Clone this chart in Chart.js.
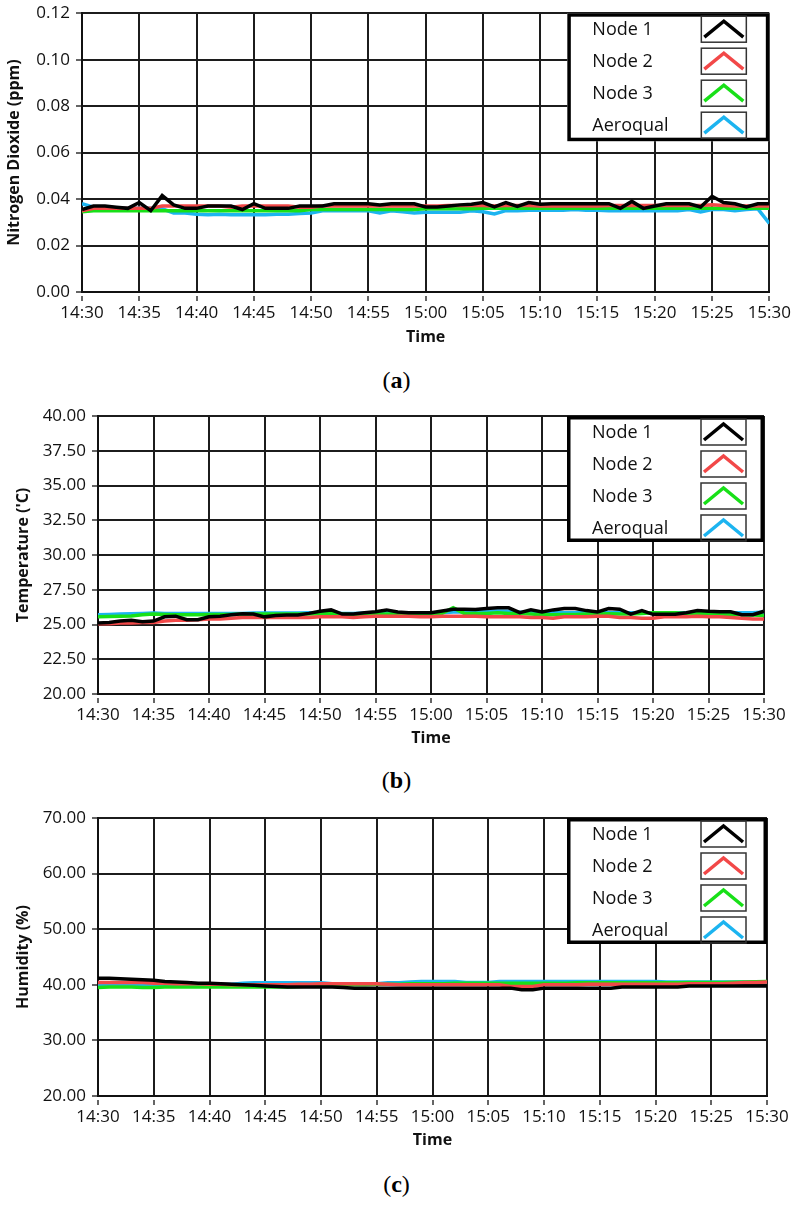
<!DOCTYPE html>
<html>
<head>
<meta charset="utf-8">
<script src="https://cdn.jsdelivr.net/npm/chart.js@4"></script>
<style>
  body { margin: 0; background: #fff; width: 793px; height: 1207px; position: relative; overflow: hidden; }
  .panel { position: absolute; left: 0; width: 793px; }
  .cap { position: absolute; left: 0; width: 793px; text-align: center; font-family: "Liberation Serif", serif; font-size: 24px; line-height: 28px; color: #000; }
</style>
</head>
<body>
<div class="panel" style="top:0;height:350px"><canvas id="chartA"></canvas></div>
<div class="cap" style="top:366px">(<b>a</b>)</div>
<div class="panel" style="top:390px;height:360px"><canvas id="chartB"></canvas></div>
<div class="cap" style="top:766px">(<b>b</b>)</div>
<div class="panel" style="top:790px;height:360px"><canvas id="chartC"></canvas></div>
<div class="cap" style="top:1170px">(<b>c</b>)</div>

<script>
// one reading per minute, 14:30 .. 15:30
var timeLabels = ["14:30", "14:35", "14:40", "14:45", "14:50", "14:55", "15:00", "15:05", "15:10", "15:15", "15:20", "15:25", "15:30"];
var seriesNames = ["Node 1", "Node 2", "Node 3", "Aeroqual"];
var seriesColors = ["#000000", "#f24848", "#18e018", "#1cb4f0"];

// (a) nitrogen dioxide, ppm
var no2Node1 = [
  0.0355, 0.037, 0.037, 0.0365, 0.036, 0.0385, 0.035, 0.0415, 0.0375, 0.036,
  0.036, 0.037, 0.037, 0.037, 0.0355, 0.038, 0.036, 0.036, 0.036, 0.037,
  0.037, 0.037, 0.038, 0.038, 0.038, 0.038, 0.0375, 0.038, 0.038, 0.038,
  0.0366, 0.0366, 0.037, 0.0375, 0.0378, 0.0385, 0.0366, 0.0385, 0.0368, 0.0385,
  0.0378, 0.038, 0.038, 0.038, 0.038, 0.038, 0.038, 0.036, 0.039, 0.036,
  0.037, 0.038, 0.038, 0.038, 0.0366, 0.0412, 0.0385, 0.038, 0.0366, 0.038, 0.038];
var no2Node2 = [
  0.035, 0.036, 0.036, 0.036, 0.036, 0.036, 0.036, 0.037, 0.037, 0.037,
  0.037, 0.037, 0.037, 0.0365, 0.037, 0.037, 0.037, 0.037, 0.037, 0.0365,
  0.0365, 0.037, 0.037, 0.037, 0.037, 0.037, 0.037, 0.037, 0.037, 0.037,
  0.037, 0.037, 0.0372, 0.0372, 0.0372, 0.0372, 0.037, 0.0372, 0.0372, 0.0372,
  0.037, 0.037, 0.037, 0.037, 0.037, 0.037, 0.0372, 0.0372, 0.0372, 0.0372,
  0.0372, 0.0372, 0.0372, 0.0372, 0.0372, 0.0375, 0.0372, 0.037, 0.037, 0.037, 0.037];
var no2Node3 = [
  0.0345, 0.035, 0.035, 0.035, 0.035, 0.035, 0.035, 0.035, 0.035, 0.035,
  0.035, 0.035, 0.035, 0.035, 0.035, 0.035, 0.035, 0.035, 0.035, 0.035,
  0.0355, 0.0355, 0.0355, 0.0355, 0.0355, 0.0355, 0.0355, 0.0355, 0.0355, 0.0355,
  0.0358, 0.0358, 0.0358, 0.0358, 0.0358, 0.036, 0.036, 0.036, 0.036, 0.036,
  0.036, 0.036, 0.036, 0.036, 0.036, 0.036, 0.036, 0.036, 0.036, 0.036,
  0.036, 0.036, 0.036, 0.036, 0.036, 0.036, 0.036, 0.036, 0.036, 0.036, 0.036];
var no2Aeroqual = [
  0.038, 0.0365, 0.0365, 0.0362, 0.036, 0.036, 0.036, 0.0358, 0.034, 0.034,
  0.0335, 0.0333, 0.0335, 0.0333, 0.0333, 0.0333, 0.0333, 0.0335, 0.0335, 0.0338,
  0.034, 0.035, 0.035, 0.035, 0.035, 0.035, 0.034, 0.035, 0.0345, 0.034,
  0.0343, 0.0343, 0.0343, 0.0343, 0.035, 0.0345, 0.0336, 0.035, 0.035, 0.0352,
  0.0352, 0.0352, 0.0352, 0.0355, 0.0352, 0.0352, 0.035, 0.035, 0.035, 0.035,
  0.035, 0.035, 0.035, 0.0355, 0.0345, 0.0355, 0.0355, 0.035, 0.0355, 0.0358, 0.0295];

// (b) temperature, 'C
var tempNode1 = [
  25.1, 25.15, 25.25, 25.3, 25.2, 25.25, 25.55, 25.6, 25.35, 25.35,
  25.55, 25.6, 25.7, 25.78, 25.75, 25.55, 25.65, 25.68, 25.68, 25.8,
  25.95, 26.05, 25.75, 25.75, 25.85, 25.92, 26.05, 25.9, 25.85, 25.85,
  25.85, 25.97, 26.1, 26.1, 26.08, 26.15, 26.2, 26.2, 25.85, 26.05,
  25.9, 26.05, 26.15, 26.15, 26.0, 25.9, 26.15, 26.1, 25.75, 26.0,
  25.73, 25.73, 25.73, 25.85, 26.0, 25.95, 25.92, 25.92, 25.7, 25.7, 25.95];
var tempNode2 = [
  25.05, 25.05, 25.1, 25.1, 25.15, 25.15, 25.25, 25.3, 25.3, 25.35,
  25.4, 25.4, 25.45, 25.5, 25.5, 25.5, 25.5, 25.5, 25.5, 25.5,
  25.55, 25.55, 25.55, 25.5, 25.55, 25.6, 25.6, 25.6, 25.6, 25.55,
  25.55, 25.6, 25.6, 25.6, 25.6, 25.55, 25.55, 25.55, 25.55, 25.5,
  25.5, 25.45, 25.55, 25.55, 25.55, 25.6, 25.6, 25.5, 25.5, 25.45,
  25.45, 25.55, 25.55, 25.55, 25.6, 25.55, 25.55, 25.5, 25.45, 25.4, 25.4];
var tempNode3 = [
  25.55, 25.58, 25.6, 25.62, 25.7, 25.75, 25.72, 25.7, 25.7, 25.7,
  25.72, 25.72, 25.72, 25.75, 25.75, 25.75, 25.75, 25.75, 25.75, 25.75,
  25.75, 25.8, 25.75, 25.7, 25.72, 25.75, 25.75, 25.75, 25.75, 25.75,
  25.75, 25.8, 26.2, 25.8, 25.8, 25.8, 25.85, 25.8, 25.8, 25.75,
  25.7, 25.7, 25.72, 25.72, 25.75, 25.75, 25.78, 25.75, 25.75, 25.8,
  25.85, 25.85, 25.85, 25.8, 25.8, 25.78, 25.75, 25.72, 25.7, 25.68, 25.65];
var tempAeroqual = [
  25.7, 25.72, 25.75, 25.78, 25.8, 25.82, 25.8, 25.8, 25.8, 25.8,
  25.8, 25.8, 25.8, 25.8, 25.82, 25.82, 25.82, 25.82, 25.82, 25.85,
  25.85, 25.85, 25.8, 25.8, 25.82, 25.85, 25.85, 25.85, 25.85, 25.85,
  25.85, 25.85, 25.9, 25.9, 25.92, 25.97, 25.97, 25.95, 25.88, 25.88,
  25.85, 25.85, 25.85, 25.85, 25.85, 25.85, 25.85, 25.85, 25.85, 25.85,
  25.85, 25.85, 25.85, 25.85, 25.85, 25.85, 25.85, 25.85, 25.85, 25.85, 25.9];

// (c) humidity, %
var humNode1 = [
  41.2, 41.2, 41.1, 41.0, 40.9, 40.8, 40.6, 40.5, 40.4, 40.3,
  40.3, 40.2, 40.1, 40.0, 39.9, 39.8, 39.7, 39.6, 39.6, 39.6,
  39.6, 39.6, 39.5, 39.4, 39.4, 39.4, 39.4, 39.4, 39.4, 39.4,
  39.4, 39.4, 39.4, 39.4, 39.4, 39.4, 39.4, 39.4, 39.1, 39.1,
  39.4, 39.4, 39.4, 39.4, 39.4, 39.4, 39.4, 39.6, 39.6, 39.6,
  39.6, 39.6, 39.6, 39.8, 39.8, 39.8, 39.8, 39.8, 39.8, 39.8, 39.8];
var humNode2 = [
  40.4, 40.4, 40.4, 40.4, 40.4, 40.3, 40.3, 40.2, 40.2, 40.2,
  40.1, 40.1, 40.0, 40.0, 40.0, 40.0, 40.0, 40.0, 40.1, 40.1,
  40.2, 40.2, 40.2, 40.2, 40.2, 40.2, 40.1, 40.0, 40.0, 40.0,
  40.0, 40.0, 40.0, 40.0, 40.0, 40.0, 40.0, 39.7, 39.7, 39.7,
  40.0, 40.0, 40.0, 40.0, 40.1, 40.1, 40.1, 40.1, 40.1, 40.1,
  40.1, 40.1, 40.1, 40.2, 40.2, 40.2, 40.2, 40.3, 40.4, 40.4, 40.5];
var humNode3 = [
  39.5, 39.6, 39.6, 39.6, 39.5, 39.5, 39.6, 39.6, 39.6, 39.6,
  39.6, 39.6, 39.6, 39.6, 39.6, 39.6, 39.6, 39.6, 39.7, 39.8,
  39.9, 40.0, 40.0, 40.0, 40.0, 40.1, 40.1, 40.1, 40.2, 40.2,
  40.2, 40.2, 40.3, 40.3, 40.3, 40.3, 40.3, 40.3, 40.3, 40.3,
  40.3, 40.3, 40.3, 40.35, 40.35, 40.35, 40.35, 40.35, 40.35, 40.35,
  40.35, 40.35, 40.35, 40.4, 40.4, 40.4, 40.4, 40.45, 40.5, 40.55, 40.6];
var humAeroqual = [
  40.1, 40.1, 40.1, 40.1, 40.1, 40.1, 40.1, 40.1, 40.1, 40.1,
  40.1, 40.1, 40.1, 40.3, 40.35, 40.35, 40.35, 40.35, 40.35, 40.35,
  40.35, 40.2, 40.2, 40.2, 40.2, 40.2, 40.35, 40.35, 40.5, 40.6,
  40.6, 40.6, 40.6, 40.4, 40.4, 40.4, 40.6, 40.6, 40.6, 40.6,
  40.6, 40.6, 40.6, 40.6, 40.6, 40.6, 40.6, 40.6, 40.6, 40.6,
  40.6, 40.5, 40.5, 40.5, 40.5, 40.5, 40.5, 40.5, 40.5, 40.5, 40.5];

var textColor = "#111";
var gridColor = "#1c1c1c";

// legend box in the top right corner of the plot, with chevron samples
var boxLegend = {
  id: "boxLegend",
  afterDraw: function (chart, args, opts) {
    var ctx = chart.ctx;
    var area = chart.chartArea;
    var w = opts.width, h = opts.height;
    var x = area.right - w, y = area.top;
    ctx.save();
    ctx.fillStyle = "#fff";
    ctx.fillRect(x, y, w, h);
    ctx.lineWidth = 3.5;
    ctx.strokeStyle = "#000";
    ctx.strokeRect(x + 1.75, y + 1.75, w - 3.5, h - 3.5);
    ctx.font = '18px "Open Sans"';
    ctx.textBaseline = "middle";
    chart.data.datasets.forEach(function (ds, i) {
      var rowY = y + 16 + i * 32;
      ctx.fillStyle = textColor;
      ctx.fillText(ds.label, x + 25, rowY + 1);
      var bx = x + 134, by = rowY - 13;
      ctx.lineWidth = 1.5;
      ctx.strokeStyle = "#333";
      ctx.strokeRect(bx, by, 45, 26);
      ctx.beginPath();
      ctx.moveTo(bx + 3, by + 21);
      ctx.lineTo(bx + 22.5, by + 5);
      ctx.lineTo(bx + 42, by + 21);
      ctx.lineWidth = 3.5;
      ctx.strokeStyle = ds.borderColor;
      ctx.stroke();
    });
    ctx.restore();
  }
};

function makeChart(id, series, p) {
  var datasets = series.map(function (values, i) {
    return {
      label: seriesNames[i],
      data: values.map(function (v, m) { return { x: m, y: v }; }),
      borderColor: seriesColors[i],
      borderWidth: 3.5,
      pointRadius: 0,
      fill: false,
      tension: 0
    };
  });
  var grid = {
    color: gridColor,
    lineWidth: 2,
    tickLength: 9,
    tickColor: "#333",
    tickWidth: 1.5,
    tickBorderDash: [0, 3, 6, 40]
  };
  return new Chart(document.getElementById(id), {
    type: "line",
    data: { datasets: datasets },
    options: {
      responsive: true,
      maintainAspectRatio: false,
      animation: false,
      layout: { padding: { top: p.padTop, right: p.padRight, left: 0, bottom: 0 } },
      plugins: {
        legend: { display: false },
        tooltip: { enabled: false },
        boxLegend: { width: p.legendW, height: p.legendH }
      },
      scales: {
        x: {
          type: "linear",
          min: 0,
          max: 60,
          afterFit: function (s) { s.height = p.xHeight; },
          ticks: {
            stepSize: 5,
            autoSkip: false,
            maxRotation: 0,
            color: textColor,
            padding: 2,
            font: { family: '"Open Sans"', size: 17 },
            callback: function (v) { return timeLabels[Math.round(v / 5)]; }
          },
          grid: grid,
          border: { color: "#111", width: 2 },
          title: {
            display: true,
            text: "Time",
            color: "#111",
            font: { family: '"Open Sans"', size: 16, weight: "bold" },
            padding: { top: 0, bottom: p.timePad }
          }
        },
        y: {
          min: p.min,
          max: p.max,
          afterFit: function (s) { s.width = p.yWidth; },
          ticks: {
            stepSize: p.step,
            color: textColor,
            padding: 3,
            font: { family: '"Open Sans"', size: 17 },
            callback: function (v) { return v.toFixed(2); }
          },
          grid: grid,
          border: { color: "#111", width: 2 },
          title: {
            display: true,
            text: p.title,
            color: "#111",
            font: { family: '"Open Sans"', size: 16, weight: "bold" },
            padding: { top: p.titlePad, bottom: 0 }
          }
        }
      }
    },
    plugins: [boxLegend]
  });
}

makeChart("chartA", [no2Node1, no2Node2, no2Node3, no2Aeroqual], {
  padTop: 12, padRight: 23, yWidth: 82, xHeight: 58,
  min: 0, max: 0.12, step: 0.02, title: "Nitrogen Dioxide (ppm)",
  titlePad: 5, timePad: 3, legendW: 202, legendH: 128
});
makeChart("chartB", [tempNode1, tempNode2, tempNode3, tempAeroqual], {
  padTop: 26, padRight: 29, yWidth: 98, xHeight: 56,
  min: 20, max: 40, step: 2.5, title: "Temperature ('C)",
  titlePad: 14, timePad: 2, legendW: 197, legendH: 126
});
makeChart("chartC", [humNode1, humNode2, humNode3, humAeroqual], {
  padTop: 28, padRight: 26, yWidth: 98, xHeight: 54,
  min: 20, max: 70, step: 10, title: "Humidity (%)",
  titlePad: 14, timePad: 0, legendW: 200, legendH: 126
});
</script>
</body>
</html>
